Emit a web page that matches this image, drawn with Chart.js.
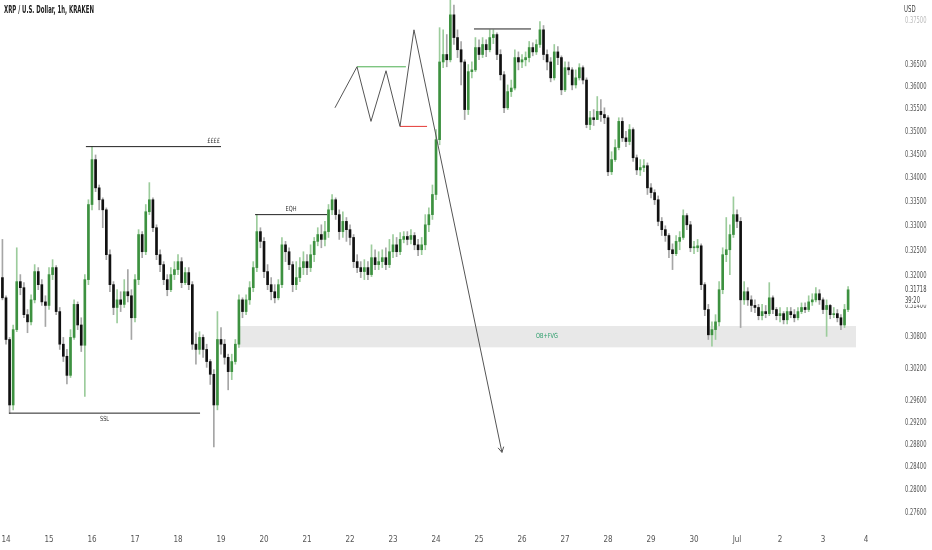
<!DOCTYPE html>
<html>
<head>
<meta charset="utf-8">
<script src="https://cdn.jsdelivr.net/npm/chart.js@4.4.0/dist/chart.umd.min.js"></script>
<style>
  html, body { margin: 0; padding: 0; background: #fff; }
  #wrap { position: relative; width: 932px; height: 550px; }
  #title { position: absolute; left: 4px; top: 4px; font: bold 10px "DejaVu Sans Condensed", sans-serif; color: #222; transform: scaleX(0.6); transform-origin: left top; white-space: nowrap; }
  #usd { position: absolute; left: 904px; top: 5px; font: 8px "DejaVu Sans Condensed", sans-serif; color: #444; transform: scaleX(0.75); transform-origin: left top; }
</style>
</head>
<body>
<div id="wrap">
  <canvas id="canvas" width="932" height="550"></canvas>
  <div id="title">XRP / U.S. Dollar, 1h, KRAKEN</div>
  <div id="usd">USD</div>
</div>
<script>
// candles (2h steps, open = previous close)
var startHour = -2;   // hours from 14 Jun 00:00
var candleStep = 2;
var firstOpen = 0.3196;
var closes = [
  0.3156,0.3075,0.2952,0.3094,0.3188,0.3176,0.3123,0.3109,0.3152,0.3208,
  0.3182,0.3148,0.3141,0.3202,0.3216,0.3129,0.3066,0.3043,0.3007,0.3079,
  0.3143,0.3103,0.3064,0.3192,0.3345,0.3440,0.3380,0.3355,0.3334,0.3242,
  0.3182,0.3137,0.3152,0.3143,0.3168,0.3160,0.3117,0.3192,0.3283,0.3248,
  0.3330,0.3355,0.3297,0.3242,0.3222,0.3192,0.3172,0.3202,0.3212,0.3228,
  0.3186,0.3206,0.3182,0.3066,0.3056,0.3079,0.3056,0.3033,0.3009,0.2952,
  0.3075,0.3066,0.3041,0.3014,0.3033,0.3066,0.3152,0.3129,0.3152,0.3176,
  0.3216,0.3289,0.3269,0.3208,0.3182,0.3168,0.3156,0.3182,0.3262,0.3248,
  0.3222,0.3182,0.3196,0.3216,0.3228,0.3216,0.3242,0.3269,0.3283,0.3273,
  0.3289,0.3334,0.3355,0.3324,0.3289,0.3310,0.3293,0.3277,0.3228,0.3216,
  0.3208,0.3216,0.3202,0.3236,0.3222,0.3228,0.3236,0.3222,0.3248,0.3262,
  0.3248,0.3273,0.3279,0.3273,0.3281,0.3262,0.3252,0.3262,0.3303,0.3324,
  0.3366,0.3483,0.3656,0.3673,0.3661,0.3765,0.3712,0.3684,0.3656,0.3549,
  0.3634,0.3638,0.3689,0.3673,0.3696,0.3684,0.3712,0.3719,0.3673,0.3627,
  0.3553,0.3589,0.3597,0.3666,0.3656,0.3661,0.3666,0.3689,0.3679,0.3696,
  0.3730,0.3673,0.3656,0.3620,0.3679,0.3666,0.3593,0.3643,0.3638,0.3604,
  0.3620,0.3643,0.3615,0.3516,0.3531,0.3527,0.3545,0.3538,0.3531,0.3414,
  0.3440,0.3466,0.3523,0.3487,0.3479,0.3505,0.3444,0.3418,0.3423,0.3427,
  0.3380,0.3370,0.3355,0.3310,0.3293,0.3281,0.3252,0.3244,0.3269,0.3277,
  0.3322,0.3303,0.3256,0.3256,0.3260,0.3182,0.3133,0.3084,0.3094,0.3109,
  0.3172,0.3242,0.3252,0.3283,0.3324,0.3310,0.3152,0.3168,0.3152,0.3141,
  0.3137,0.3121,0.3129,0.3125,0.3156,0.3133,0.3121,0.3125,0.3113,0.3129,
  0.3123,0.3117,0.3129,0.3137,0.3133,0.3148,0.3152,0.3164,0.3152,0.3133,
  0.3141,0.3123,0.3125,0.3117,0.3103,0.3133,0.31718
];
var highs = [
  0.3273,0.3160,0.3079,0.3103,0.3256,0.3202,0.3186,0.3133,0.3162,0.3222,
  0.3216,0.3192,0.3160,0.3216,0.3232,0.3220,0.3137,0.3079,0.3056,0.3094,
  0.3152,0.3148,0.3117,0.3202,0.3355,0.3468,0.3450,0.3386,0.3359,0.3338,
  0.3252,0.3188,0.3172,0.3168,0.3192,0.3212,0.3172,0.3202,0.3293,0.3289,
  0.3345,0.3391,0.3359,0.3303,0.3252,0.3228,0.3202,0.3216,0.3228,0.3242,
  0.3236,0.3216,0.3216,0.3188,0.3088,0.3090,0.3084,0.3066,0.3037,0.3018,
  0.3129,0.3098,0.3075,0.3047,0.3047,0.3075,0.3162,0.3156,0.3162,0.3188,
  0.3228,0.3324,0.3297,0.3277,0.3222,0.3196,0.3182,0.3192,0.3277,0.3269,
  0.3256,0.3228,0.3228,0.3236,0.3248,0.3242,0.3262,0.3277,0.3297,0.3303,
  0.3310,0.3345,0.3366,0.3359,0.3334,0.3330,0.3318,0.3303,0.3283,0.3242,
  0.3228,0.3232,0.3228,0.3262,0.3252,0.3248,0.3252,0.3256,0.3273,0.3283,
  0.3277,0.3287,0.3289,0.3289,0.3293,0.3287,0.3273,0.3277,0.3324,0.3338,
  0.3386,0.3505,0.3735,0.3730,0.3719,0.3805,0.3788,0.3730,0.3703,0.3661,
  0.3650,0.3656,0.3712,0.3707,0.3712,0.3707,0.3730,0.3730,0.3723,0.3684,
  0.3634,0.3604,0.3615,0.3684,0.3679,0.3673,0.3679,0.3703,0.3700,0.3707,
  0.3749,0.3740,0.3684,0.3666,0.3696,0.3691,0.3670,0.3656,0.3656,0.3643,
  0.3638,0.3652,0.3647,0.3620,0.3545,0.3549,0.3578,0.3571,0.3553,0.3536,
  0.3457,0.3483,0.3531,0.3531,0.3501,0.3516,0.3509,0.3450,0.3440,0.3440,
  0.3433,0.3389,0.3376,0.3363,0.3318,0.3301,0.3285,0.3264,0.3281,0.3289,
  0.3334,0.3326,0.3310,0.3269,0.3273,0.3264,0.3186,0.3143,0.3109,0.3123,
  0.3188,0.3256,0.3318,0.3303,0.3361,0.3334,0.3318,0.3188,0.3176,0.3160,
  0.3152,0.3143,0.3143,0.3141,0.3186,0.3160,0.3137,0.3137,0.3129,0.3137,
  0.3137,0.3133,0.3137,0.3146,0.3146,0.3160,0.3164,0.3176,0.3172,0.3156,
  0.3152,0.3143,0.3137,0.3133,0.3123,0.3143,0.3178
];
var lows = [
  0.3152,0.3066,0.2936,0.2943,0.3090,0.3162,0.3117,0.3088,0.3103,0.3146,
  0.3172,0.3141,0.3100,0.3133,0.3192,0.3123,0.3056,0.3033,0.2991,0.3003,
  0.3075,0.3094,0.3052,0.2968,0.3182,0.3334,0.3372,0.3334,0.3297,0.3232,
  0.3168,0.3123,0.3107,0.3129,0.3137,0.3148,0.3075,0.3109,0.3182,0.3236,
  0.3242,0.3324,0.3289,0.3232,0.3208,0.3182,0.3160,0.3168,0.3192,0.3202,
  0.3176,0.3182,0.3172,0.3056,0.3028,0.3047,0.3041,0.3022,0.2990,0.2876,
  0.2943,0.3047,0.3028,0.2980,0.2999,0.3028,0.3060,0.3117,0.3123,0.3143,
  0.3168,0.3208,0.3256,0.3196,0.3172,0.3152,0.3146,0.3152,0.3176,0.3228,
  0.3212,0.3168,0.3172,0.3188,0.3202,0.3202,0.3208,0.3228,0.3260,0.3256,
  0.3260,0.3277,0.3324,0.3314,0.3273,0.3277,0.3269,0.3262,0.3216,0.3206,
  0.3196,0.3192,0.3192,0.3198,0.3212,0.3212,0.3216,0.3212,0.3216,0.3236,
  0.3238,0.3242,0.3266,0.3262,0.3264,0.3252,0.3240,0.3242,0.3252,0.3289,
  0.3314,0.3355,0.3472,0.3643,0.3645,0.3656,0.3696,0.3666,0.3604,0.3527,
  0.3538,0.3620,0.3634,0.3661,0.3666,0.3668,0.3679,0.3698,0.3661,0.3615,
  0.3542,0.3549,0.3578,0.3593,0.3638,0.3643,0.3647,0.3656,0.3670,0.3673,
  0.3689,0.3661,0.3638,0.3611,0.3615,0.3650,0.3582,0.3589,0.3627,0.3593,
  0.3597,0.3615,0.3606,0.3509,0.3505,0.3514,0.3527,0.3523,0.3518,0.3406,
  0.3408,0.3436,0.3461,0.3479,0.3468,0.3472,0.3436,0.3408,0.3406,0.3414,
  0.3366,0.3359,0.3345,0.3301,0.3281,0.3269,0.3236,0.3212,0.3240,0.3252,
  0.3273,0.3293,0.3248,0.3244,0.3248,0.3172,0.3121,0.3075,0.3062,0.3075,
  0.3101,0.3164,0.3228,0.3202,0.3277,0.3297,0.3098,0.3143,0.3141,0.3129,
  0.3127,0.3113,0.3113,0.3117,0.3121,0.3125,0.3113,0.3109,0.3105,0.3105,
  0.3117,0.3109,0.3113,0.3125,0.3127,0.3129,0.3141,0.3148,0.3143,0.3125,
  0.3081,0.3115,0.3117,0.3109,0.3094,0.3098,0.3129
];

var dayLabels = ['14','15','16','17','18','19','20','21','22','23','24','25','26','27','28','29','30','Jul','2','3','4'];
var priceTicks = [0.375,0.365,0.360,0.355,0.350,0.345,0.340,0.335,0.330,0.325,0.320,0.314,0.308,0.302,0.296,0.292,0.288,0.284,0.280,0.276];
var lastPrice = 0.31718;
var countdown = '39:20';

// drawings on the chart, as [hour, price]
var eeeeLine = [[44.6,0.3468],[120.0,0.3468]];
var sslLine = [[1.7,0.2937],[108.3,0.2937]];
var eqhLine = [[139.0,0.3324],[179.2,0.3324]];
var topLine = [[261.2,0.3732],[293.0,0.3732]];
var zigzag = [[183.6,0.3553],[195.9,0.3645],[203.7,0.3523],[212.1,0.3636],[219.9,0.3512],[227.7,0.3730],[276.8,0.2866]];
var greenLevel = [[195.9,0.3645],[223.2,0.3645]];
var redLevel = [[219.9,0.3512],[235.0,0.3512]];
var obZone = [129.5, 474.4, 0.3060, 0.3101]; // from, to, low, high

var FONT = '"DejaVu Sans Condensed", sans-serif';

var wickData = [], bodyData = [], bull = [];
for (var i = 0; i < closes.length; i++) {
  var o = i == 0 ? firstOpen : closes[i - 1];
  var t = startHour + i * candleStep;
  wickData.push({x: t, y: [lows[i], highs[i]]});
  bodyData.push({x: t, y: [o, closes[i]]});
  bull.push(closes[i] >= o);
}

var lineDs = function(points, color) {
  return {
    type: 'line',
    data: points.map(function(p){ return {x: p[0], y: p[1]}; }),
    borderColor: color,
    borderWidth: 1,
    pointRadius: 0,
    fill: false,
    tension: 0,
    order: 0
  };
};

// squeezed text, like the narrow labels of the picture
var narrowText = function(ctx, text, x, y, sx) {
  ctx.save();
  ctx.translate(x, y);
  ctx.scale(sx, 1);
  ctx.fillText(text, 0, 0);
  ctx.restore();
};

var overlay = {
  id: 'overlay',
  beforeDatasetsDraw: function(chart) {
    var ctx = chart.ctx, xs = chart.scales.x, ys = chart.scales.y;
    var x0 = xs.getPixelForValue(obZone[0]), x1 = xs.getPixelForValue(obZone[1]);
    var y0 = ys.getPixelForValue(obZone[3]), y1 = ys.getPixelForValue(obZone[2]);
    ctx.save();
    ctx.fillStyle = '#e8e8e8';
    ctx.fillRect(x0, y0, x1 - x0, y1 - y0);
    ctx.fillStyle = '#2a9d6a';
    ctx.font = '7px ' + FONT;
    ctx.textAlign = 'center';
    ctx.textBaseline = 'middle';
    narrowText(ctx, 'OB+FVG', (x0 + x1) / 2, (y0 + y1) / 2, 0.8);
    ctx.restore();
  },
  afterDatasetsDraw: function(chart) {
    var ctx = chart.ctx, xs = chart.scales.x, ys = chart.scales.y;
    var px = function(p){ return {x: xs.getPixelForValue(p[0]), y: ys.getPixelForValue(p[1])}; };
    ctx.save();
    ctx.fillStyle = '#333';
    ctx.font = '7px ' + FONT;
    var e = px(eeeeLine[1]);
    ctx.textAlign = 'right'; ctx.textBaseline = 'bottom';
    narrowText(ctx, '££££', e.x - 1, e.y - 2, 0.8);
    var q0 = px(eqhLine[0]), q1 = px(eqhLine[1]);
    ctx.textAlign = 'center';
    narrowText(ctx, 'EQH', (q0.x + q1.x) / 2, q0.y - 2, 0.8);
    var s0 = px(sslLine[0]), s1 = px(sslLine[1]);
    ctx.textBaseline = 'top';
    narrowText(ctx, 'SSL', (s0.x + s1.x) / 2, s0.y + 3, 0.8);
    // arrow head at end of the projection
    var a = px(zigzag[zigzag.length - 1]), b = px(zigzag[zigzag.length - 2]);
    var ang = Math.atan2(a.y - b.y, a.x - b.x);
    ctx.strokeStyle = '#555';
    ctx.lineWidth = 1;
    ctx.beginPath();
    ctx.moveTo(a.x - 6 * Math.cos(ang - 0.5), a.y - 6 * Math.sin(ang - 0.5));
    ctx.lineTo(a.x, a.y);
    ctx.lineTo(a.x - 6 * Math.cos(ang + 0.5), a.y - 6 * Math.sin(ang + 0.5));
    ctx.stroke();
    ctx.restore();
  },
  afterDraw: function(chart) {
    var ctx = chart.ctx, ys = chart.scales.y;
    var lx = chart.chartArea.right + 25;
    ctx.save();
    ctx.font = '8px ' + FONT;
    ctx.textAlign = 'left'; ctx.textBaseline = 'middle';
    priceTicks.forEach(function(v) {
      ctx.fillStyle = v === 0.375 ? '#bbb' : '#555';
      narrowText(ctx, v.toFixed(5), lx, ys.getPixelForValue(v), 0.72);
    });
    // last price + countdown on the axis
    var ly = ys.getPixelForValue(lastPrice);
    ctx.fillStyle = '#fff';
    ctx.fillRect(chart.chartArea.right + 1, ly - 7, 52, 22);
    ctx.fillStyle = '#444';
    narrowText(ctx, lastPrice.toFixed(5), lx, ly, 0.72);
    narrowText(ctx, countdown, lx, ly + 11, 0.72);
    ctx.restore();
  }
};

var ctx = document.getElementById('canvas').getContext('2d');
var chart = new Chart(ctx, {
  type: 'bar',
  data: {
    datasets: [
      {
        data: wickData,
        backgroundColor: bull.map(function(b){ return b ? '#9ccc9c' : '#a6a6a6'; }),
        barThickness: 1,
        grouped: false,
        order: 3
      },
      {
        data: bodyData,
        backgroundColor: bull.map(function(b){ return b ? '#3d9140' : '#111111'; }),
        barThickness: 2,
        minBarLength: 1,
        grouped: false,
        order: 2
      },
      lineDs(eeeeLine, '#222'),
      lineDs(sslLine, '#222'),
      lineDs(eqhLine, '#222'),
      lineDs(topLine, '#222'),
      lineDs(zigzag, '#555'),
      lineDs(greenLevel, '#4caf50'),
      lineDs(redLevel, '#e53935')
    ]
  },
  options: {
    responsive: false,
    animation: false,
    layout: { padding: 0, autoPadding: false },
    plugins: { legend: { display: false }, tooltip: { enabled: false } },
    scales: {
      x: {
        type: 'linear',
        bounds: 'data',
        min: -3.35,
        max: 487.8,
        offset: false,
        grid: { display: false, drawTicks: false },
        border: { display: false },
        afterBuildTicks: function(s) {
          s.ticks = dayLabels.map(function(l, i){ return {value: i * 24}; });
        },
        afterFit: function(s) {
          s.height = 22;
          s.paddingLeft = 0;
          s.paddingRight = 0;
        },
        ticks: {
          autoSkip: false,
          maxRotation: 0,
          padding: 7,
          color: '#555',
          font: { family: FONT, size: 8 },
          callback: function(v) { return dayLabels[Math.round(v / 24)]; }
        }
      },
      y: {
        type: 'logarithmic',
        bounds: 'data',
        position: 'right',
        min: 0.2734,
        max: 0.3800,
        grid: { display: false, drawTicks: false },
        border: { display: false },
        afterBuildTicks: function(s) {
          s.ticks = priceTicks.map(function(v){ return {value: v}; });
        },
        afterFit: function(s) {
          s.width = 52;
          s.paddingTop = 0;
          s.paddingBottom = 0;
        },
        ticks: { display: false }
      }
    }
  },
  plugins: [overlay]
});
</script>
</body>
</html>
